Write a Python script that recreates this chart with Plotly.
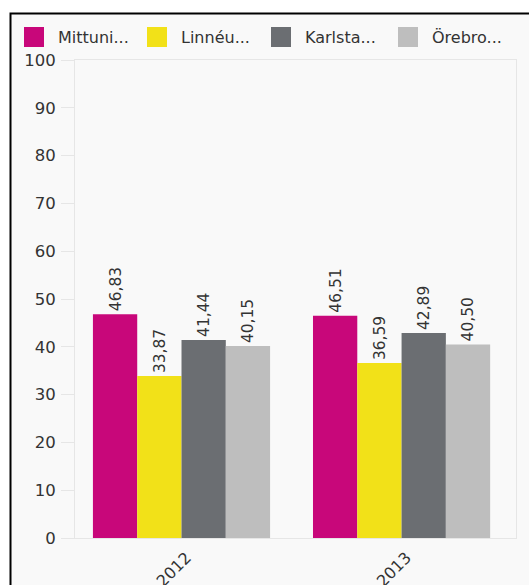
import plotly.graph_objects as go

years = ["2012", "2013"]
names = ["Mittuni...", "Linnéu...", "Karlsta...", "Örebro..."]
colors = ["#c8077a", "#f2e118", "#6b6e72", "#bebebe"]

mittuni = [46.83, 46.51]
linneu = [33.87, 36.59]
karlsta = [41.44, 42.89]
orebro = [40.15, 40.50]
series = [mittuni, linneu, karlsta, orebro]

FONT = "DejaVu Sans"
TXT = "#333333"

# plot area in pixels (left, right, top, bottom)
L, R, T, B = 75, 516, 60, 538


def px_x(p):
    return (p - L) / (R - L)


def px_y(p):
    return (B - p) / (B - T)


fig = go.Figure()
for name, vals, col in zip(names, series, colors):
    fig.add_trace(go.Bar(
        x=years, y=vals, name=name,
        marker=dict(color=col, line=dict(width=0)),
        texttemplate="%{y:.2f}",
        textposition="outside",
        textangle=-90,
        cliponaxis=False,
        textfont=dict(family=FONT, size=17, color=TXT),
        showlegend=False,
    ))

# frame around the chart
shapes = [dict(
    type="rect", xref="paper", yref="paper", layer="below",
    x0=px_x(10.5), x1=px_x(600), y0=px_y(13.5), y1=px_y(700),
    line=dict(color="#000000", width=2), fillcolor="#f9f9f9",
)]

# hand-drawn legend (square swatches like the original)
annotations = []
legend_sq = [24, 147, 271, 398]
for name, col, x0 in zip(names, colors, legend_sq):
    shapes.append(dict(
        type="rect", xref="paper", yref="paper",
        x0=px_x(x0), x1=px_x(x0 + 20), y0=px_y(47), y1=px_y(27),
        line=dict(width=0), fillcolor=col,
    ))
    annotations.append(dict(
        xref="paper", yref="paper", x=px_x(x0 + 32), y=px_y(37.5),
        xanchor="left", yanchor="middle", showarrow=False,
        text=name, font=dict(family=FONT, size=16, color=TXT),
    ))

fig.update_layout(
    width=529, height=585,
    margin=dict(l=L, r=529 - R, t=T, b=585 - B),
    paper_bgcolor="#ffffff",
    plot_bgcolor="#f9f9f9",
    separators=",.",
    bargap=0.195,
    bargroupgap=0,
    barmode="group",
    font=dict(family=FONT, size=16, color=TXT),
    shapes=shapes,
    annotations=annotations,
    xaxis=dict(
        type="category", range=[-0.484, 1.52], automargin=False,
        tickangle=-45, ticks="", showgrid=False,
        ticklabelshift=5, ticklabelstandoff=3,
        showline=True, mirror=True, linecolor="#e6e6e6", linewidth=1,
        tickfont=dict(family=FONT, size=16, color=TXT),
    ),
    yaxis=dict(
        range=[0, 100], dtick=10, showgrid=False, zeroline=False, automargin=False,
        ticks="outside", ticklen=13, tickcolor="#e6e6e6", ticklabelstandoff=2,
        showline=True, mirror=True, linecolor="#e6e6e6", linewidth=1,
        tickfont=dict(family=FONT, size=16.5, color=TXT),
    ),
)

fig.write_html(
    "out.html",
    config={"displayModeBar": False},
    post_script="document.body.style.margin='0';",
)
